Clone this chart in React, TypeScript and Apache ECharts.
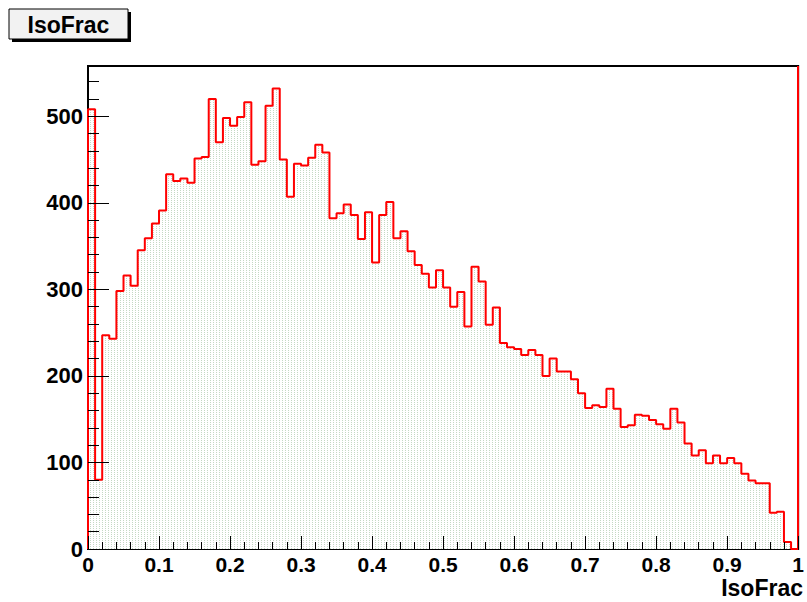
import React, { useEffect, useRef } from "react";
import * as echarts from "echarts";

const histTitle = "IsoFrac";
const xAxisTitle = "IsoFrac";
const binWidth = 0.01;
const binValues = [
  508, 80, 247, 243, 298, 316, 304, 345, 359, 376,
  391, 433, 425, 428, 423, 451, 453, 520, 470, 498,
  489, 499, 516, 444, 448, 512, 532, 450, 407, 445,
  443, 452, 467, 458, 382, 388, 398, 386, 358, 389,
  331, 386, 401, 359, 367, 344, 328, 318, 302, 322,
  302, 280, 297, 257, 326, 309, 259, 279, 238, 233,
  231, 224, 230, 224, 200, 220, 205, 205, 196, 180,
  163, 166, 164, 185, 162, 141, 143, 155, 154, 149,
  144, 139, 162, 146, 122, 108, 114, 99, 108, 99,
  105, 99, 87, 79, 76, 76, 42, 43, 8, 0,
];
const xMin = 0;
const xMax = 1;
const yMax = 558;

function makePattern(): any {
  const c = document.createElement("canvas");
  c.width = 3;
  c.height = 2;
  const ctx = c.getContext("2d")!;
  ctx.fillStyle = "#ffffff";
  ctx.fillRect(0, 0, 3, 2);
  ctx.fillStyle = "#c4d8c4";
  ctx.fillRect(0, 0, 1, 1);
  return { image: c, repeat: "repeat" };
}

export default function App() {
  const ref = useRef<HTMLDivElement>(null);
  useEffect(() => {
    document.body.style.margin = "0";
    const chart = echarts.init(ref.current!, null, { renderer: "svg" });
    const pts: number[][] = [[xMin, 0]];
    binValues.forEach((v, i) => pts.push([+(i * binWidth).toFixed(2), v]));
    pts.push([xMax, binValues[binValues.length - 1]]);
    const font = "'Liberation Sans', Arial, Helvetica, sans-serif";
    const tickStyle = { color: "#000", width: 1 };
    chart.setOption({
      animation: false,
      backgroundColor: "#ffffff",
      grid: {
        left: 88,
        right: 4,
        top: 66,
        bottom: 53,
        show: true,
        borderColor: "#000",
        borderWidth: 2,
        backgroundColor: "transparent",
        z: 0,
      },
      xAxis: {
        type: "value",
        min: xMin,
        max: xMax,
        interval: 0.1,
        z: 10,
        axisLine: { show: false },
        axisTick: { show: true, inside: true, length: 13, lineStyle: tickStyle },
        minorTick: { show: true, splitNumber: 5, length: 7, lineStyle: tickStyle },
        splitLine: { show: false },
        minorSplitLine: { show: false },
        axisLabel: {
          color: "#000",
          fontFamily: font,
          fontWeight: "bold",
          fontSize: 21,
          margin: 5,
        },
      },
      yAxis: [
        {
          type: "value",
          min: 0,
          max: yMax,
          interval: 100,
          position: "left",
          z: 10,
          axisLine: { show: false },
          axisTick: { show: true, inside: true, length: 21, lineStyle: tickStyle },
          splitLine: { show: false },
          axisLabel: {
            color: "#000",
            fontFamily: font,
            fontWeight: "bold",
            fontSize: 22,
            margin: 5,
            formatter: (v: number) => (v % 100 === 0 ? String(v) : ""),
          },
        },
        {
          type: "value",
          min: 0,
          max: yMax,
          interval: 20,
          position: "left",
          z: 10,
          axisLine: { show: false },
          axisTick: { show: true, inside: true, length: 11, lineStyle: tickStyle },
          splitLine: { show: false },
          axisLabel: { show: false },
        },
      ],
      series: [
        {
          type: "line",
          step: "end",
          data: pts,
          showSymbol: false,
          symbol: "none",
          yAxisIndex: 0,
          z: 2,
          lineStyle: { color: "#ff0000", width: 2 },
          areaStyle: { color: makePattern(), opacity: 1 },
          markLine: {
            silent: true,
            symbol: "none",
            label: { show: false },
            lineStyle: { color: "#ff0000", width: 2, type: "solid" },
            data: [{ xAxis: xMax }],
          },
        },
      ],
      graphic: [
        { type: "rect", shape: { x: 12, y: 12, width: 119, height: 30 }, style: { fill: "#000" }, z: 10 },
        {
          type: "rect",
          shape: { x: 9, y: 9, width: 119, height: 30 },
          style: { fill: "#f2f2f2", stroke: "#000", lineWidth: 1 },
          z: 11,
        },
        {
          type: "text",
          x: 68.5,
          y: 24.5,
          style: {
            text: histTitle,
            fill: "#000",
            font: `bold 23px ${font}`,
            align: "center",
            verticalAlign: "middle",
          },
          z: 12,
        },
        {
          type: "text",
          right: 4,
          top: 576,
          style: {
            text: xAxisTitle,
            fill: "#000",
            font: `bold 23px ${font}`,
          },
          z: 12,
        },
      ],
    });
    return () => chart.dispose();
  }, []);
  return <div ref={ref} style={{ width: 807, height: 602 }} />;
}
